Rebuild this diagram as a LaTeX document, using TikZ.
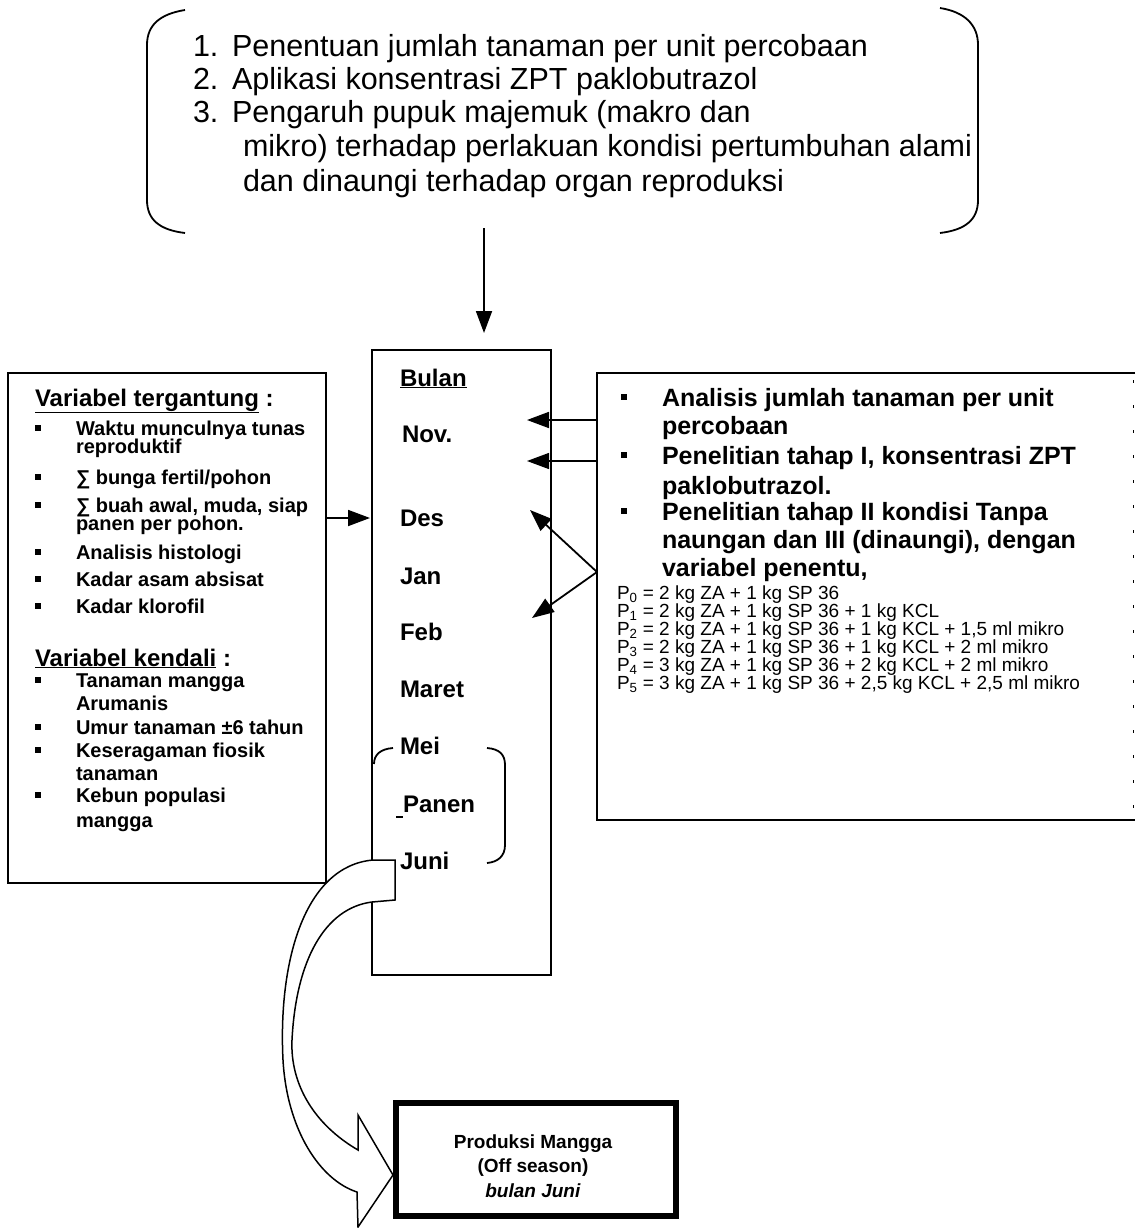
\documentclass[tikz,border=0pt]{standalone}
\usepackage{fontspec}
\setmainfont{Liberation Sans}
\usetikzlibrary{arrows.meta}
\begin{document}
\begin{tikzpicture}[x=1pt,y=-1pt,
 line width=1.8pt,
 box/.style={draw,line width=1.8pt,rectangle,inner sep=0pt,outer sep=0pt,anchor=north west},
 txt/.style={anchor=base west,inner sep=0pt,outer sep=0pt},
 toptxt/.style={txt,font=\fontsize{30.5}{33}\selectfont},
 lb/.style={txt,font=\fontsize{20}{20}\selectfont\bfseries},
 lhead/.style={txt,font=\fontsize{24}{24}\selectfont\bfseries},
 rb/.style={txt,font=\fontsize{25}{25}\selectfont\bfseries},
 pl/.style={txt,font=\fontsize{19}{19}\selectfont},
 mo/.style={txt,font=\fontsize{24}{24}\selectfont\bfseries},
 arr/.style={-{Triangle[length=22pt,width=16pt]},line width=1.8pt},
 bul/.style={fill=black,draw=none,minimum size=6pt,inner sep=0pt,outer sep=0pt,rectangle}
]
\fill[white] (0,0) rectangle (1135,1228);
\useasboundingbox (0,0) rectangle (1135,1228);

% ---------- top group ----------
\node[inner sep=0pt,outer sep=0pt,minimum width=831,minimum height=225,anchor=north west] (top) at (147,8) {};
\draw (185,10) .. controls (160,14) and (147,25) .. (147,45) -- (147,200) .. controls (147,220) and (160,230) .. (185,233);
\draw (940,8) .. controls (965,12) and (978,25) .. (978,45) -- (978,200) .. controls (978,220) and (965,230) .. (940,233);
\node[toptxt] (t1n) at (193,57) {1.};
\node[toptxt] (t1) at (232,57) {Penentuan jumlah tanaman per unit percobaan};
\node[toptxt] (t2n) at (193,90) {2.};
\node[toptxt] (t2) at (232,90) {Aplikasi konsentrasi ZPT paklobutrazol};
\node[toptxt] (t3n) at (193,123) {3.};
\node[toptxt] (t3) at (232,123) {Pengaruh pupuk majemuk (makro dan};
\node[toptxt] (t4) at (243,157) {mikro) terhadap perlakuan kondisi pertumbuhan alami};
\node[toptxt] (t5) at (243,191) {dan dinaungi terhadap organ reproduksi};

% ---------- Bulan box ----------
\node[box,minimum width=179,minimum height=625] (bulan) at (372,350) {};
\coordinate (topout) at (484,228);
\draw[arr,shorten >=17pt] (topout) -- (topout |- bulan.north);

\node[mo] (mbulan) at (400,386) {\underline{Bulan}};
\node[mo] (mnov) at (402,442) {Nov.};
\node[mo] (mdes) at (400,526) {Des};
\node[mo] (mjan) at (400,584) {Jan};
\node[mo] (mfeb) at (400,640) {Feb};
\node[mo] (mmar) at (400,697) {Maret};
\node[mo] (mmei) at (400,754) {Mei};
\node[mo] (mpan) at (403,812) {Panen};
\node[mo] (mjun) at (400,869) {Juni};
\draw (393,748) .. controls (380,749) and (374,755) .. (374,764);
\draw (487,748) .. controls (500,749) and (505,755) .. (505,765) -- (505,845) .. controls (505,856) and (498,862) .. (487,863);
\draw (396,817) -- (403,817);

% ---------- left box ----------
\node[box,minimum width=318,minimum height=510] (lbox) at (8,373) {};
\node[lhead] (h1) at (35,406) {\underline{Variabel tergantung} :};
\node[bul] (b1) at (38,428) {};
\node[lb] (l1) at (76,435) {Waktu munculnya tunas};
\node[lb] (l1b) at (76,453) {reproduktif};
\node[bul] (b2) at (38,477) {};
\node[lb] (l2) at (76,484) {∑ bunga fertil/pohon};
\node[bul] (b3) at (38,505) {};
\node[lb] (l3) at (76,512) {∑ buah awal, muda, siap};
\node[lb] (l3b) at (76,530) {panen per pohon.};
\node[bul] (b4) at (38,552) {};
\node[lb] (l4) at (76,559) {Analisis histologi};
\node[bul] (b5) at (38,579) {};
\node[lb] (l5) at (76,586) {Kadar asam absisat};
\node[bul] (b6) at (38,606) {};
\node[lb] (l6) at (76,613) {Kadar klorofil};
\node[lhead] (h2) at (35,666) {\underline{Variabel kendali} :};
\node[bul] (k1) at (38,680) {};
\node[lb] (m1) at (76,687) {Tanaman mangga};
\node[lb] (m1b) at (76,710) {Arumanis};
\node[bul] (k2) at (38,727) {};
\node[lb] (m2) at (76,734) {Umur tanaman ±6 tahun};
\node[bul] (k3) at (38,750) {};
\node[lb] (m3) at (76,757) {Keseragaman fiosik};
\node[lb] (m3b) at (76,780) {tanaman};
\node[bul] (k4) at (38,795) {};
\node[lb] (m4) at (76,802) {Kebun populasi};
\node[lb] (m4b) at (76,827) {mangga};
\coordinate (desin) at (370,518);
\draw[arr] (lbox.east |- desin) -- (desin);

% ---------- right box ----------
\node[inner sep=0pt,outer sep=0pt,minimum width=538,minimum height=447,anchor=north west] (rbox) at (597,373) {};
\draw (rbox.north east) -- (rbox.north west) -- (rbox.south west) -- (rbox.south east);
\draw[line width=1pt,dash pattern=on 3pt off 22pt] (1133,380) -- (1133,820);
\node[bul] (r1) at (624,397) {};
\node[rb] (q1) at (662,406) {Analisis jumlah tanaman per unit};
\node[rb] (q1b) at (662,434) {percobaan};
\node[bul] (r2) at (624,455) {};
\node[rb] (q2) at (662,464) {Penelitian tahap I, konsentrasi ZPT};
\node[rb] (q2b) at (662,494) {paklobutrazol.};
\node[bul] (r3) at (624,511) {};
\node[rb] (q3) at (662,520) {Penelitian tahap II kondisi Tanpa};
\node[rb] (q3b) at (662,548) {naungan dan III (dinaungi), dengan};
\node[rb] (q3c) at (662,576) {variabel penentu,};
\node[pl] (p0) at (617,599) {P\textsubscript{0} = 2 kg ZA + 1 kg SP 36};
\node[pl] (p1) at (617,617) {P\textsubscript{1} = 2 kg ZA + 1 kg SP 36 + 1 kg KCL};
\node[pl] (p2) at (617,635) {P\textsubscript{2} = 2 kg ZA + 1 kg SP 36 + 1 kg KCL + 1,5 ml mikro};
\node[pl] (p3) at (617,653) {P\textsubscript{3} = 2 kg ZA + 1 kg SP 36 + 1 kg KCL + 2 ml mikro};
\node[pl] (p4) at (617,671) {P\textsubscript{4} = 3 kg ZA + 1 kg SP 36 + 2 kg KCL + 2 ml mikro};
\node[pl] (p5) at (617,689) {P\textsubscript{5} = 3 kg ZA + 1 kg SP 36 + 2,5 kg KCL + 2,5 ml mikro};

\coordinate (novtip) at (527,420);
\coordinate (nov2tip) at (527,461);
\coordinate (fork) at (597,572);
\coordinate (destip) at (530,510);
\coordinate (febtip) at (532,618);
\draw[arr] (rbox.west |- novtip) -- (novtip);
\draw[arr,line width=1.3pt] (rbox.west |- nov2tip) -- (nov2tip);
\draw[arr] (fork) -- (destip);
\draw[arr] (fork) -- (febtip);

% ---------- curved block arrow ----------
\draw[fill=white,line width=1.5pt,line join=miter]
 (395,860) -- (373,860)
 .. controls (305,866) and (278,960) .. (283,1060)
 .. controls (287,1130) and (320,1180) .. (357,1192)
 -- (358,1227) -- (393,1175) -- (358,1115) -- (358,1150)
 .. controls (315,1125) and (290,1085) .. (292,1040)
 .. controls (296,960) and (325,908) .. (372,902)
 -- (395,900) -- cycle;

% ---------- Produksi box ----------
\node[draw,line width=6pt,inner sep=0pt,minimum width=280,minimum height=113,anchor=north west] (prod) at (393,1100) {};
\node[align=center,inner sep=0pt,font=\fontsize{19}{24.5}\selectfont\bfseries] (prodtxt) at (533,1166) {Produksi Mangga\\(Off season)\\\textit{bulan Juni}};
\end{tikzpicture}
\end{document}
